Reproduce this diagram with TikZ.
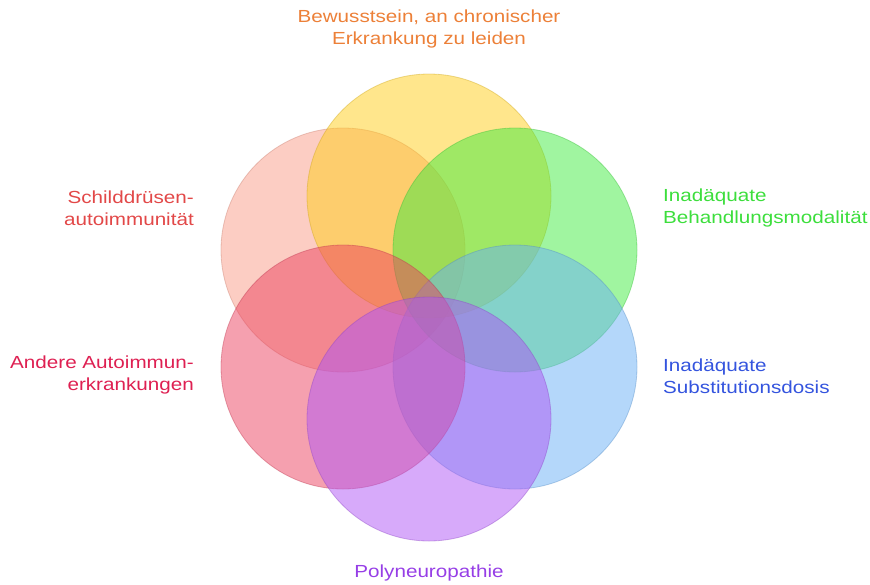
\documentclass[tikz,border=0pt]{standalone}
\usepackage{fontspec}
\setmainfont{Liberation Sans}
\usepackage{xcolor}
\usepackage{graphicx}
\usepackage{tikz}

\definecolor{cyellow}{RGB}{255,205,25}
\definecolor{cpink}{RGB}{249,155,135}
\definecolor{cgreen}{RGB}{65,235,65}
\definecolor{cblue}{RGB}{105,175,245}
\definecolor{cred}{RGB}{235,65,95}
\definecolor{cpurple}{RGB}{175,85,245}

\definecolor{tyellow}{RGB}{236,128,56}
\definecolor{tpink}{RGB}{226,72,72}
\definecolor{tgreen}{RGB}{60,222,60}
\definecolor{tblue}{RGB}{52,84,222}
\definecolor{tred}{RGB}{222,32,82}
\definecolor{tpurple}{RGB}{150,62,230}

\newcommand{\wide}[1]{\scalebox{1.18}[1]{#1}}

\tikzset{
  venn/.style={fill=#1, fill opacity=0.5, draw=#1!80!black, draw opacity=0.4, line width=0.8pt},
  lab/.style={inner sep=0pt, font=\fontsize{17.5}{22}\selectfont, text=#1}
}

\begin{document}
\begin{tikzpicture}[x=1pt, y=-1pt]

\useasboundingbox (0,0) rectangle (870,584);

\draw[venn=cpink]   (343,250) circle (122);
\draw[venn=cyellow] (429,196) circle (122);
\draw[venn=cgreen]  (515,250) circle (122);
\draw[venn=cblue]   (515,367) circle (122);
\draw[venn=cred]    (343,367) circle (122);
\draw[venn=cpurple] (429,419) circle (122);

\node[lab=tyellow, align=center] (bewusst) at (429,29) {\wide{Bewusstsein, an chronischer}\\\wide{Erkrankung zu leiden}};

\node[lab=tpink, align=right, anchor=east] (schild) at (194,208) {\wide{Schilddrüsen-}\\\wide{autoimmunität}};

\node[lab=tgreen, align=left, anchor=west] (behandl) at (663,208) {\wide{Inadäquate}\\\wide{Behandlungsmodalität}};

\node[lab=tred, align=right, anchor=east] (andere) at (194,375) {\wide{Andere Autoimmun-}\\\wide{erkrankungen}};

\node[lab=tblue, align=left, anchor=west] (subst) at (663,376) {\wide{Inadäquate}\\\wide{Substitutionsdosis}};

\node[lab=tpurple] (poly) at (429,573) {\wide{Polyneuropathie}};

\end{tikzpicture}
\end{document}
